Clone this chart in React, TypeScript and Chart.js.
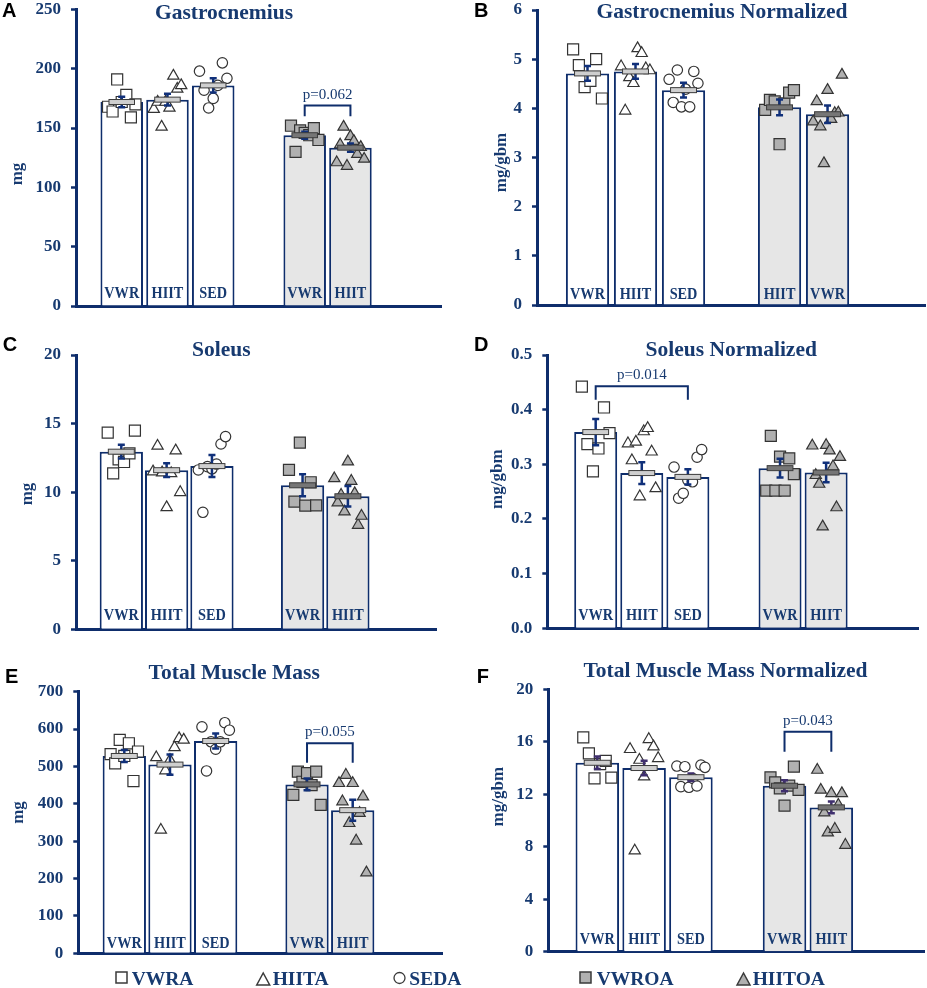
import React, { useEffect, useRef } from 'react';
import { Chart, registerables } from 'chart.js';

Chart.register(...registerables);

// ---------------- data ----------------
const BAR_LABELS = ['VWR', 'HIIT', 'SED', 'VWR', 'HIIT'];
const BAR_LABELS_B = ['VWR', 'HIIT', 'SED', 'HIIT', 'VWR'];
const LEGEND_LABELS = ['VWRA', 'HIITA', 'SEDA', 'VWROA', 'HIITOA'];

// A - Gastrocnemius (mg)
const gastroMeans = [172, 174, 186, 144, 133.5];
const gastroSem = [4.5, 5, 6, 3, 3.5];
const gastroVWRA = [168, 164, 191, 172, 178, 159, 170];
const gastroHIITA = [166, 172, 151, 172, 167, 194, 183, 186];
const gastroSEDA = [198, 182, 167, 175, 186, 205, 192];
const gastroVWROA = [152, 130, 148, 146, 144, 150, 140];
const gastroHIITOA = [121, 136, 151, 118, 143, 139, 128, 134, 124];

// B - Gastrocnemius Normalized (mg/gbm)
const gastroNMeans = [4.71, 4.75, 4.37, 4.02, 3.88];
const gastroNSem = [0.15, 0.15, 0.15, 0.16, 0.18];
const gastroNVWRA = [5.2, 4.88, 4.43, 4.56, 5.0, 4.2];
const gastroNHIITA = [4.85, 3.95, 4.63, 4.51, 5.22, 5.12, 4.81, 4.77];
const gastroNSEDA = [4.59, 4.12, 4.78, 4.03, 4.39, 4.03, 4.75, 4.51];
const gastroNVWROA = [3.97, 4.17, 4.14, 3.27, 4.1, 4.32, 4.37];
const gastroNHIITOA = [3.73, 4.14, 3.63, 2.88, 4.37, 3.78, 3.9, 3.91, 4.68];

// C - Soleus (mg)
const soleusMeans = [12.95, 11.6, 11.9, 10.5, 9.7];
const soleusSem = [0.5, 0.5, 0.8, 0.8, 0.75];
const soleusVWRA = [14.34, 11.37, 12.39, 12.2, 12.83, 14.48];
const soleusHIITA = [11.5, 13.37, 11.42, 8.89, 11.37, 13.03, 9.99];
const soleusSEDA = [11.62, 8.53, 11.86, 11.7, 12.05, 13.51, 14.05];
const soleusVWROA = [11.62, 9.31, 13.61, 9.02, 10.72, 9.04];
const soleusHIITOA = [11.0, 9.23, 9.79, 8.58, 12.22, 10.81, 9.91, 7.6, 8.26];

// D - Soleus Normalized (mg/gbm)
const soleusNMeans = [0.359, 0.284, 0.277, 0.293, 0.285];
const soleusNSem = [0.024, 0.02, 0.014, 0.017, 0.018];
const soleusNVWRA = [0.442, 0.337, 0.287, 0.329, 0.404, 0.357];
const soleusNHIITA = [0.338, 0.307, 0.341, 0.241, 0.36, 0.366, 0.323, 0.256];
const soleusNSEDA = [0.295, 0.238, 0.247, 0.271, 0.268, 0.313, 0.327];
const soleusNVWROA = [0.252, 0.352, 0.252, 0.314, 0.252, 0.311, 0.282];
const soleusNHIITOA = [0.334, 0.28, 0.264, 0.186, 0.335, 0.325, 0.296, 0.221, 0.313];

// E - Total Muscle Mass (mg)
const totalMeans = [528, 505, 568, 452, 383];
const totalSem = [16, 27, 20, 16, 28];
const totalVWRA = [533, 508, 571, 528, 562, 461, 540];
const totalHIITA = [524, 330, 489, 517, 551, 575, 571];
const totalSEDA = [606, 488, 566, 546, 566, 617, 597];
const totalVWROA = [424, 486, 459, 482, 450, 486, 397];
const totalHIITOA = [455, 406, 477, 348, 455, 301, 375, 419, 216];

// F - Total Muscle Mass Normalized (mg/gbm)
const totalNMeans = [14.4, 14.0, 13.3, 12.65, 11.0];
const totalNSem = [0.47, 0.55, 0.28, 0.42, 0.45];
const totalNVWRA = [16.34, 15.12, 13.21, 14.3, 14.54, 13.27];
const totalNHIITA = [15.43, 7.7, 14.61, 13.34, 16.19, 15.63, 14.74];
const totalNSEDA = [14.15, 12.58, 14.1, 12.53, 13.2, 12.63, 14.23, 14.05];
const totalNVWROA = [13.29, 12.9, 12.45, 11.13, 12.66, 14.1, 12.33];
const totalNHIITOA = [13.85, 12.33, 10.6, 9.07, 12.07, 9.35, 11.18, 12.07, 8.13];

// p-value brackets (bar indices, y level, leg end, text)
const gastroBracket = { from: 3, to: 4, y: 169, drop: 160, text: 'p=0.062' };
const soleusNBracket = { from: 0, to: 2, y: 0.443, drop: 0.418, text: 'p=0.014' };
const totalBracket = { from: 3, to: 4, y: 562, drop: 510, text: 'p=0.055' };
const totalNBracket = { from: 3, to: 4, y: 16.77, drop: 15.24, text: 'p=0.043' };

// ---------------- styles ----------------
const NAVY = '#0e2d6b';
const TEXT = '#173a70';
const ERR = '#10307a';
const GRAY_BAR = '#e6e6e6';
const GRAY_PT = '#b0b0b0';
const MARK_LIGHT = '#cfcfcf';
const MARK_DARK = '#767676';
const SERIF = '"Liberation Serif", "Times New Roman", serif';
const SANS = '"Liberation Sans", Arial, sans-serif';

type Shape = 'rect' | 'triangle' | 'circle';
const GROUP_STYLE: { shape: Shape; gray: boolean }[] = [
  { shape: 'rect', gray: false },
  { shape: 'triangle', gray: false },
  { shape: 'circle', gray: false },
  { shape: 'rect', gray: true },
  { shape: 'triangle', gray: true },
];
const RADIUS: Record<Shape, number> = { rect: 7.8, triangle: 6.5, circle: 5.2 };

interface Bracket { from: number; to: number; y: number; drop: number; text: string }
interface PanelData {
  letter: string; title: string; yTitle: string; yMax: number; yStep: number; decimals: number;
  labels: string[]; means: number[]; sem: number[]; points: number[][]; bracket?: Bracket;
}
interface PanelLayout {
  left: number; top: number; width: number; height: number;
  area: [number, number, number, number];
  xRange: [number, number]; barPct: number;
  letterAt: [number, number]; titleAt: [number, number]; yTitleAt: [number, number];
  labelLift: number; errColor: string; lightMarkers?: number[];
}

const PANELS: { d: PanelData; L: PanelLayout }[] = [
  {
    d: { letter: 'A', title: 'Gastrocnemius', yTitle: 'mg', yMax: 250, yStep: 50, decimals: 0, labels: BAR_LABELS,
      means: gastroMeans, sem: gastroSem, points: [gastroVWRA, gastroHIITA, gastroSEDA, gastroVWROA, gastroHIITOA], bracket: gastroBracket },
    L: { left: 0, top: 0, width: 460, height: 320, area: [76, 9.5, 441, 306], xRange: [0, 7.98], barPct: 0.93,
      letterAt: [2, 17.3], titleAt: [224, 19], yTitleAt: [18, 174], labelLift: 8, errColor: ERR },
  },
  {
    d: { letter: 'B', title: 'Gastrocnemius Normalized', yTitle: 'mg/gbm', yMax: 6, yStep: 1, decimals: 0, labels: BAR_LABELS_B,
      means: gastroNMeans, sem: gastroNSem, points: [gastroNVWRA, gastroNHIITA, gastroNSEDA, gastroNVWROA, gastroNHIITOA] },
    L: { left: 460, top: 0, width: 467, height: 320, area: [77, 10, 465, 305], xRange: [-0.052, 8.03], barPct: 0.9,
      letterAt: [14, 17], titleAt: [262, 18.3], yTitleAt: [42, 162.5], labelLift: 6, errColor: ERR },
  },
  {
    d: { letter: 'C', title: 'Soleus', yTitle: 'mg', yMax: 20, yStep: 5, decimals: 0, labels: BAR_LABELS,
      means: soleusMeans, sem: soleusSem, points: [soleusVWRA, soleusHIITA, soleusSEDA, soleusVWROA, soleusHIITOA] },
    L: { left: 0, top: 320, width: 460, height: 330, area: [76, 35, 436.7, 309.3], xRange: [0, 7.96], barPct: 0.955,
      letterAt: [2.7, 30.7], titleAt: [221.3, 35.7], yTitleAt: [27.5, 174], labelLift: 9.6, errColor: ERR },
  },
  {
    d: { letter: 'D', title: 'Soleus Normalized', yTitle: 'mg/gbm', yMax: 0.5, yStep: 0.1, decimals: 1, labels: BAR_LABELS,
      means: soleusNMeans, sem: soleusNSem, points: [soleusNVWRA, soleusNHIITA, soleusNSEDA, soleusNVWROA, soleusNHIITOA], bracket: soleusNBracket },
    L: { left: 460, top: 320, width: 467, height: 330, area: [87.3, 35, 458.3, 308.3], xRange: [-0.05, 8.0], barPct: 0.933,
      letterAt: [14, 31], titleAt: [271.2, 35.7], yTitleAt: [37.5, 159.2], labelLift: 8.3, errColor: ERR },
  },
  {
    d: { letter: 'E', title: 'Total Muscle Mass', yTitle: 'mg', yMax: 700, yStep: 100, decimals: 0, labels: BAR_LABELS,
      means: totalMeans, sem: totalSem, points: [totalVWRA, totalHIITA, totalSEDA, totalVWROA, totalHIITOA], bracket: totalBracket },
    L: { left: 0, top: 650, width: 460, height: 338, area: [78.3, 41.7, 442.7, 303.3], xRange: [-0.007, 7.97], barPct: 0.948,
      letterAt: [5, 33.3], titleAt: [234.2, 29.3], yTitleAt: [19, 162.5], labelLift: 5.6, errColor: ERR, lightMarkers: [4] },
  },
  {
    d: { letter: 'F', title: 'Total Muscle Mass Normalized', yTitle: 'mg/gbm', yMax: 20, yStep: 4, decimals: 0, labels: BAR_LABELS,
      means: totalNMeans, sem: totalNSem, points: [totalNVWRA, totalNHIITA, totalNSEDA, totalNVWROA, totalNHIITOA], bracket: totalNBracket },
    L: { left: 460, top: 650, width: 467, height: 338, area: [88.3, 39.3, 464, 301.7], xRange: [-0.047, 7.98], barPct: 0.93,
      letterAt: [16.7, 33.3], titleAt: [265.5, 27.3], yTitleAt: [39, 146.7], labelLift: 7.7, errColor: '#3f2f6e' },
  },
];

// evenly spread points across the bar (layout only)
const spread = (j: number, n: number) => (n <= 1 ? 0 : -0.3 + (0.6 * j) / (n - 1));
const slotOf = (i: number) => i + 1 + (i >= 3 ? 1 : 0);

function decorPlugin(d: PanelData, L: PanelLayout) {
  return {
    id: 'decor',
    afterDatasetsDraw(chart: any) {
      const ctx: CanvasRenderingContext2D = chart.ctx;
      const y = chart.scales.y;
      const bars = chart.getDatasetMeta(0).data;
      const zero = y.getPixelForValue(0);
      ctx.save();
      d.means.forEach((m, i) => {
        const bar: any = bars[i];
        const cx = bar.x;
        const bw = bar.width;
        // label inside bar
        ctx.save();
        ctx.translate(cx, zero - L.labelLift);
        ctx.scale(0.84, 1);
        ctx.font = `bold 17px ${SERIF}`;
        ctx.fillStyle = TEXT;
        ctx.textAlign = 'center';
        ctx.textBaseline = 'alphabetic';
        ctx.fillText(d.labels[i], 0, 0);
        ctx.restore();
        // error bar
        const top = y.getPixelForValue(m + d.sem[i]);
        const bot = y.getPixelForValue(m - d.sem[i]);
        const cap = 3.5;
        ctx.strokeStyle = L.errColor;
        ctx.lineWidth = 2.5;
        ctx.beginPath();
        ctx.moveTo(cx, top); ctx.lineTo(cx, bot);
        ctx.moveTo(cx - cap, top); ctx.lineTo(cx + cap, top);
        ctx.moveTo(cx - cap, bot); ctx.lineTo(cx + cap, bot);
        ctx.stroke();
        // mean marker
        const ym = y.getPixelForValue(m);
        const mw = bw * 0.6;
        const light = !GROUP_STYLE[i].gray || (L.lightMarkers || []).includes(i);
        ctx.fillStyle = light ? MARK_LIGHT : MARK_DARK;
        ctx.fillRect(cx - mw / 2, ym - 2.5, mw, 5);
        ctx.strokeStyle = '#3c3c3c';
        ctx.lineWidth = 1;
        ctx.strokeRect(cx - mw / 2, ym - 2.5, mw, 5);
      });
      if (d.bracket) {
        const b = d.bracket;
        const x1 = (bars[b.from] as any).x;
        const x2 = (bars[b.to] as any).x;
        const yl = y.getPixelForValue(b.y);
        const yd = y.getPixelForValue(b.drop);
        ctx.strokeStyle = NAVY;
        ctx.lineWidth = 2;
        ctx.beginPath();
        ctx.moveTo(x1, yd); ctx.lineTo(x1, yl); ctx.lineTo(x2, yl); ctx.lineTo(x2, yd);
        ctx.stroke();
        ctx.font = `15px ${SERIF}`;
        ctx.fillStyle = TEXT;
        ctx.textAlign = 'center';
        ctx.textBaseline = 'alphabetic';
        ctx.fillText(b.text, (x1 + x2) / 2, yl - 7);
      }
      ctx.restore();
    },
    afterDraw(chart: any) {
      const ctx: CanvasRenderingContext2D = chart.ctx;
      ctx.save();
      ctx.textBaseline = 'alphabetic';
      ctx.font = `bold 20px ${SANS}`;
      ctx.fillStyle = '#000';
      ctx.textAlign = 'left';
      ctx.fillText(d.letter, L.letterAt[0], L.letterAt[1]);
      ctx.font = `bold 21.5px ${SERIF}`;
      ctx.fillStyle = TEXT;
      ctx.textAlign = 'center';
      ctx.fillText(d.title, L.titleAt[0], L.titleAt[1]);
      ctx.translate(L.yTitleAt[0], L.yTitleAt[1]);
      ctx.rotate(-Math.PI / 2);
      ctx.font = `bold 17px ${SERIF}`;
      ctx.textBaseline = 'middle';
      ctx.fillText(d.yTitle, 0, 0);
      ctx.restore();
    },
  };
}

function buildConfig(d: PanelData, L: PanelLayout): any {
  const barData = d.means.map((m, i) => ({ x: slotOf(i), y: m }));
  const datasets: any[] = [
    {
      type: 'bar',
      data: barData,
      backgroundColor: GROUP_STYLE.map((g) => (g.gray ? GRAY_BAR : '#ffffff')),
      borderColor: NAVY,
      borderWidth: 2,
      borderSkipped: 'bottom',
      barPercentage: L.barPct,
      categoryPercentage: 1,
      order: 2,
    },
  ];
  d.points.forEach((vals, i) => {
    const g = GROUP_STYLE[i];
    const fill = g.gray ? GRAY_PT : '#ffffff';
    datasets.push({
      type: 'scatter',
      label: LEGEND_LABELS[i],
      data: vals.map((v, j) => ({ x: slotOf(i) + spread(j, vals.length), y: v })),
      showLine: false,
      pointStyle: g.shape,
      pointRadius: RADIUS[g.shape],
      backgroundColor: fill,
      pointBackgroundColor: fill,
      borderColor: '#333333',
      pointBorderColor: '#333333',
      pointBorderWidth: 1.2,
      borderWidth: 1.2,
      order: 1,
      clip: false,
    });
  });
  return {
    type: 'bar',
    data: { datasets },
    options: {
      responsive: false,
      animation: false,
      events: [],
      layout: {
        autoPadding: false,
        padding: { left: 0, top: L.area[1], right: L.width - L.area[2], bottom: L.height - L.area[3] },
      },
      plugins: { legend: { display: false }, tooltip: { enabled: false }, title: { display: false } },
      scales: {
        x: {
          type: 'linear',
          min: L.xRange[0],
          max: L.xRange[1],
          offset: false,
          z: 1,
          ticks: { display: false, stepSize: 1, includeBounds: false },
          grid: { display: true, offset: false, drawOnChartArea: false, drawTicks: false },
          border: { display: true, color: NAVY, width: 3 },
          afterFit: (s: any) => { s.height = 0; s.paddingLeft = 0; s.paddingRight = 0; },
        },
        y: {
          type: 'linear',
          min: 0,
          max: d.yMax,
          ticks: {
            stepSize: d.yStep,
            color: TEXT,
            padding: 10,
            font: { family: SERIF, size: 17, weight: 'bold', lineHeight: 1 },
            callback: (v: any) => Number(v).toFixed(d.decimals),
          },
          grid: { display: true, drawOnChartArea: false, drawTicks: true, tickLength: 5, tickColor: NAVY, tickWidth: 2.5 },
          border: { display: true, color: NAVY, width: 3 },
          afterFit: (s: any) => { s.width = L.area[0]; s.paddingTop = 0; s.paddingBottom = 0; },
        },
      },
    },
    plugins: [decorPlugin(d, L)],
  };
}

function Panel({ d, L }: { d: PanelData; L: PanelLayout }) {
  const ref = useRef<HTMLCanvasElement>(null);
  useEffect(() => {
    if (!ref.current) return;
    const chart = new Chart(ref.current, buildConfig(d, L));
    return () => chart.destroy();
  }, []);
  return (
    <canvas
      ref={ref}
      width={L.width}
      height={L.height}
      style={{ position: 'absolute', left: L.left, top: L.top, width: L.width, height: L.height }}
    />
  );
}

// legend layout (symbol left x, text left x) in page pixels
const LEGEND_POS = [
  { sx: 116, tx: 131.7 },
  { sx: 256.7, tx: 272.7 },
  { sx: 394, tx: 409.3 },
  { sx: 580, tx: 596.7 },
  { sx: 737, tx: 752.7 },
];

function LegendSymbol({ i, x }: { i: number; x: number }) {
  const g = GROUP_STYLE[i];
  const fill = g.gray ? GRAY_PT : '#ffffff';
  const stroke = '#3a3a3a';
  if (g.shape === 'rect') return <rect x={x} y={17} width={11} height={11} fill={fill} stroke={stroke} strokeWidth={1.5} />;
  if (g.shape === 'circle') return <circle cx={x + 5.5} cy={23} r={5.5} fill={fill} stroke={stroke} strokeWidth={1.3} />;
  return <polygon points={`${x},30 ${x + 6.5},18 ${x + 13},30`} fill={fill} stroke={stroke} strokeWidth={1.5} />;
}

function Legend() {
  // svg top at page y=955; baseline at page y=985 -> 30
  return (
    <svg width={927} height={33} style={{ position: 'absolute', left: 0, top: 955 }}>
      {LEGEND_LABELS.map((lab, i) => (
        <g key={lab}>
          <LegendSymbol i={i} x={LEGEND_POS[i].sx} />
          <text
            x={LEGEND_POS[i].tx}
            y={30}
            fill={TEXT}
            style={{ font: `bold 19.5px ${SERIF}` }}
          >
            {lab}
          </text>
        </g>
      ))}
    </svg>
  );
}

export default function App() {
  return (
    <div style={{ position: 'absolute', left: 0, top: 0, width: 927, height: 988, background: '#ffffff', overflow: 'hidden' }}>
      {PANELS.map((p) => (
        <Panel key={p.d.letter} d={p.d} L={p.L} />
      ))}
      <Legend />
    </div>
  );
}
